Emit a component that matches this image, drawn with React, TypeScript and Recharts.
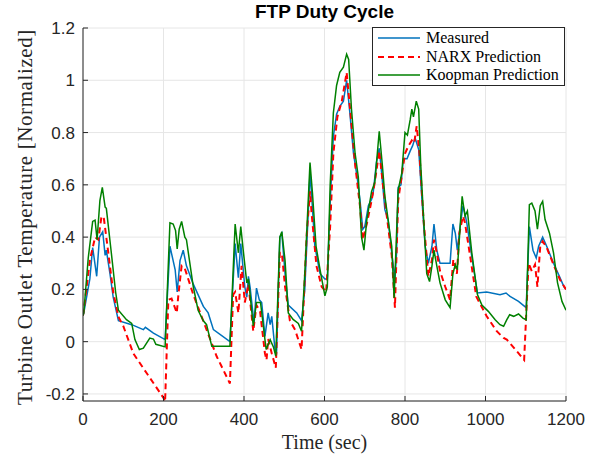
import React from "react";
import { LineChart, Line, XAxis, YAxis, CartesianGrid } from "recharts";

// [time (sec), normalized temperature]
const measured: [number, number][] = [
  [0, 0.1], [2, 0.11], [17, 0.24], [24, 0.36], [34, 0.25], [41, 0.4], [49, 0.42], [55, 0.33],
  [58, 0.35], [67, 0.26], [75, 0.17], [88, 0.08], [121, 0.065], [150, 0.046], [155, 0.055],
  [175, 0.033], [204, 0.008], [216, 0.365], [229, 0.275], [234, 0.19], [241, 0.31], [249, 0.35],
  [257, 0.29], [274, 0.22], [299, 0.135], [311, 0.11], [324, 0.046], [365, 0.0], [378, 0.375],
  [386, 0.245], [392, 0.375], [402, 0.21], [407, 0.17], [411, 0.25], [415, 0.21], [425, 0.07],
  [431, 0.205], [438, 0.16], [444, 0.15], [452, 0.02], [460, 0.11], [465, 0.065], [469, 0.097],
  [477, -0.03], [481, -0.04], [489, 0.4], [494, 0.415], [502, 0.26], [510, 0.14], [531, 0.11],
  [543, 0.08], [551, 0.2], [564, 0.645], [568, 0.56], [576, 0.365], [589, 0.26], [601, 0.24],
  [607, 0.24], [614, 0.53], [622, 0.785], [630, 0.87], [638, 0.9], [647, 0.92], [655, 1.0],
  [663, 0.875], [672, 0.72], [681, 0.63], [688, 0.545], [695, 0.43], [700, 0.44], [709, 0.52],
  [717, 0.545], [721, 0.57], [729, 0.685], [736, 0.74], [742, 0.645], [750, 0.505], [758, 0.467],
  [767, 0.34], [775, 0.24], [779, 0.34], [783, 0.59], [790, 0.6], [796, 0.7], [805, 0.7],
  [813, 0.73], [819, 0.75], [825, 0.78], [834, 0.735], [842, 0.545], [850, 0.365], [858, 0.3],
  [867, 0.365], [872, 0.45], [879, 0.35], [887, 0.3], [912, 0.3], [919, 0.45], [925, 0.415],
  [930, 0.35], [937, 0.44], [944, 0.52], [949, 0.49], [954, 0.45], [966, 0.325], [980, 0.186],
  [1003, 0.19], [1036, 0.18], [1051, 0.186], [1061, 0.173], [1082, 0.154], [1101, 0.13],
  [1109, 0.44], [1118, 0.35], [1126, 0.32], [1132, 0.365], [1142, 0.4], [1152, 0.365],
  [1169, 0.3], [1185, 0.245], [1195, 0.21], [1200, 0.2],
];

const narx: [number, number][] = [
  [0, 0.1], [2, 0.12], [17, 0.31], [30, 0.4], [38, 0.39], [46, 0.48], [52, 0.47], [62, 0.35],
  [75, 0.19], [88, 0.095], [100, 0.06], [125, -0.045], [158, -0.12], [200, -0.215], [204, -0.23],
  [212, 0.16], [220, 0.165], [226, 0.14], [233, 0.11], [237, 0.18], [245, 0.29], [253, 0.28],
  [274, 0.18], [307, 0.046], [332, -0.056], [365, -0.16], [373, 0.18], [378, 0.19], [386, 0.11],
  [394, 0.29], [402, 0.15], [411, 0.22], [423, 0.04], [431, 0.14], [440, 0.115], [452, -0.045],
  [456, -0.07], [460, 0.01], [469, -0.045], [479, -0.1], [489, 0.34], [494, 0.34], [502, 0.21],
  [514, 0.08], [527, 0.045], [543, -0.03], [556, 0.415], [564, 0.575], [568, 0.49], [580, 0.29],
  [593, 0.21], [604, 0.19], [614, 0.44], [622, 0.72], [632, 0.86], [643, 0.92], [655, 1.03],
  [663, 0.9], [676, 0.68], [688, 0.52], [695, 0.39], [705, 0.45], [717, 0.54], [725, 0.61],
  [736, 0.73], [746, 0.59], [754, 0.49], [767, 0.33], [775, 0.13], [783, 0.54], [800, 0.72],
  [809, 0.75], [817, 0.77], [823, 0.76], [829, 0.825], [836, 0.72], [846, 0.467], [858, 0.25],
  [867, 0.314], [872, 0.39], [879, 0.34], [887, 0.27], [900, 0.21], [912, 0.16], [920, 0.314],
  [929, 0.26], [935, 0.415], [944, 0.48], [949, 0.455], [962, 0.325], [977, 0.173], [1003, 0.097],
  [1028, 0.04], [1045, 0.014], [1053, 0.008], [1078, -0.037], [1096, -0.07], [1107, 0.3],
  [1115, 0.27], [1123, 0.295], [1129, 0.21], [1136, 0.365], [1142, 0.384], [1152, 0.36],
  [1169, 0.295], [1185, 0.237], [1200, 0.2],
];

const koopman: [number, number][] = [
  [0, 0.1], [2, 0.11], [13, 0.32], [24, 0.46], [30, 0.465], [35, 0.39], [42, 0.54], [48, 0.59],
  [55, 0.515], [58, 0.51], [70, 0.345], [81, 0.19], [88, 0.12], [108, 0.084], [121, 0.07],
  [129, 0.008], [140, -0.03], [150, -0.025], [166, 0.014], [175, 0.01], [181, -0.01], [204, -0.02],
  [216, 0.455], [224, 0.45], [230, 0.425], [234, 0.355], [239, 0.43], [245, 0.46], [253, 0.4],
  [257, 0.39], [274, 0.21], [286, 0.12], [299, 0.08], [307, 0.065], [320, -0.018], [365, -0.018],
  [378, 0.45], [386, 0.34], [392, 0.44], [398, 0.35], [407, 0.225], [411, 0.24], [423, 0.06],
  [431, 0.15], [441, 0.15], [455, -0.03], [465, 0.008], [473, -0.02], [479, -0.055], [489, 0.4],
  [494, 0.42], [502, 0.31], [510, 0.11], [522, 0.085], [535, 0.07], [543, 0.04], [551, 0.26],
  [564, 0.685], [570, 0.57], [579, 0.365], [589, 0.275], [601, 0.175], [607, 0.21], [614, 0.595],
  [622, 0.875], [630, 0.98], [638, 1.03], [647, 1.05], [655, 1.1], [660, 1.08], [667, 0.89],
  [676, 0.72], [684, 0.63], [692, 0.4], [698, 0.35], [705, 0.465], [717, 0.575], [725, 0.61],
  [736, 0.805], [744, 0.67], [750, 0.556], [758, 0.467], [767, 0.365], [773, 0.167], [783, 0.58],
  [792, 0.645], [800, 0.8], [806, 0.79], [813, 0.85], [817, 0.89], [821, 0.86], [828, 0.92],
  [834, 0.89], [839, 0.68], [846, 0.48], [854, 0.26], [861, 0.23], [867, 0.29], [872, 0.35],
  [879, 0.29], [887, 0.225], [900, 0.16], [912, 0.13], [919, 0.26], [925, 0.295], [930, 0.275],
  [937, 0.44], [942, 0.556], [949, 0.48], [955, 0.5], [966, 0.34], [980, 0.18], [991, 0.14],
  [1007, 0.116], [1024, 0.084], [1036, 0.065], [1045, 0.059], [1053, 0.084], [1060, 0.103],
  [1070, 0.097], [1082, 0.106], [1093, 0.09], [1101, 0.084], [1109, 0.524], [1115, 0.53],
  [1123, 0.5], [1129, 0.43], [1136, 0.52], [1142, 0.537], [1148, 0.467], [1159, 0.415],
  [1169, 0.34], [1179, 0.225], [1190, 0.154], [1200, 0.12],
];

const xTicks = [0, 200, 400, 600, 800, 1000, 1200];
const yTicks = [-0.2, 0, 0.2, 0.4, 0.6, 0.8, 1, 1.2];

const toRows = (pts: [number, number][]) => pts.map(([t, v]) => ({ t, v }));

const AXIS = "#262626";
const SERIF = "'Liberation Serif', 'DejaVu Serif', serif";
const SANS = "'Liberation Sans', Arial, Helvetica, sans-serif";

const legendItems = [
  { name: "Measured", color: "#0072BD", dash: undefined as string | undefined, width: 1.5 },
  { name: "NARX Prediction", color: "#FF0000", dash: "6 4", width: 2 },
  { name: "Koopman Prediction", color: "#008000", dash: undefined as string | undefined, width: 1.5 },
];

export default function App() {
  const tickStyle = { fontSize: 17, fill: AXIS, fontFamily: SANS };
  return (
    <div style={{ position: "absolute", left: 0, top: 0, width: 601, height: 461, background: "#fff" }}>
      <LineChart width={601} height={461} margin={{ top: 28, right: 35, bottom: 0, left: 0 }}>
        <CartesianGrid stroke="#e6e6e6" strokeWidth={1} />
        <XAxis
          dataKey="t"
          type="number"
          domain={[0, 1200]}
          ticks={xTicks}
          height={60}
          allowDataOverflow
          stroke={AXIS}
          tickSize={-5}
          tickMargin={17}
          tick={tickStyle}
        />
        <XAxis
          xAxisId="top"
          orientation="top"
          type="number"
          domain={[0, 1200]}
          ticks={xTicks}
          height={0}
          stroke={AXIS}
          tickSize={-5}
          tick={false}
        />
        <YAxis
          type="number"
          domain={[-0.227, 1.2]}
          ticks={yTicks}
          width={83}
          allowDataOverflow
          stroke={AXIS}
          tickSize={-5}
          tickMargin={13}
          tick={tickStyle}
          tickFormatter={(v: number) => String(Number(v.toFixed(1)))}
        />
        <YAxis
          yAxisId="right"
          orientation="right"
          type="number"
          domain={[-0.227, 1.2]}
          ticks={yTicks}
          width={0}
          stroke={AXIS}
          tickSize={-5}
          tick={false}
        />
        <Line
          data={toRows(measured)}
          dataKey="v"
          type="linear"
          stroke="#0072BD"
          strokeWidth={1.5}
          dot={false}
          isAnimationActive={false}
        />
        <Line
          data={toRows(narx)}
          dataKey="v"
          type="linear"
          stroke="#FF0000"
          strokeWidth={2}
          strokeDasharray="6 4"
          dot={false}
          isAnimationActive={false}
        />
        <Line
          data={toRows(koopman)}
          dataKey="v"
          type="linear"
          stroke="#008000"
          strokeWidth={1.5}
          dot={false}
          isAnimationActive={false}
        />
      </LineChart>

      <div
        style={{
          position: "absolute", left: 83, width: 483, top: 1, textAlign: "center",
          fontFamily: SANS, fontWeight: "bold", fontSize: 19, color: "#000", lineHeight: "22px",
        }}
      >
        FTP Duty Cycle
      </div>
      <div
        style={{
          position: "absolute", left: 83, width: 483, top: 430, textAlign: "center",
          fontFamily: SERIF, fontSize: 20, color: AXIS, lineHeight: "24px",
        }}
      >
        Time (sec)
      </div>
      <div
        style={{
          position: "absolute", left: 25, top: 217, width: 0, height: 0,
        }}
      >
        <div
          style={{
            position: "absolute", left: 0, top: 0, transform: "translate(-50%, -50%) rotate(-90deg)",
            whiteSpace: "nowrap", fontFamily: SERIF, fontSize: 21, letterSpacing: 0.6,
            color: AXIS, lineHeight: "22px",
          }}
        >
          Turbine Outlet Temperature [Normalized]
        </div>
      </div>

      <div
        style={{
          position: "absolute", left: 372, top: 27, width: 193, height: 59,
          border: "1px solid #262626", background: "#fff", boxSizing: "border-box",
        }}
      >
        {legendItems.map((it, i) => (
          <div key={it.name} style={{ position: "absolute", left: 4, top: 1 + i * 18.5, height: 18, display: "flex", alignItems: "center" }}>
            <svg width={44} height={18} style={{ display: "block" }}>
              <line x1={1} x2={43} y1={9} y2={9} stroke={it.color} strokeWidth={it.width} strokeDasharray={it.dash} />
            </svg>
            <span style={{ marginLeft: 5, fontFamily: SERIF, fontSize: 16, color: "#000", whiteSpace: "nowrap" }}>{it.name}</span>
          </div>
        ))}
      </div>
    </div>
  );
}
